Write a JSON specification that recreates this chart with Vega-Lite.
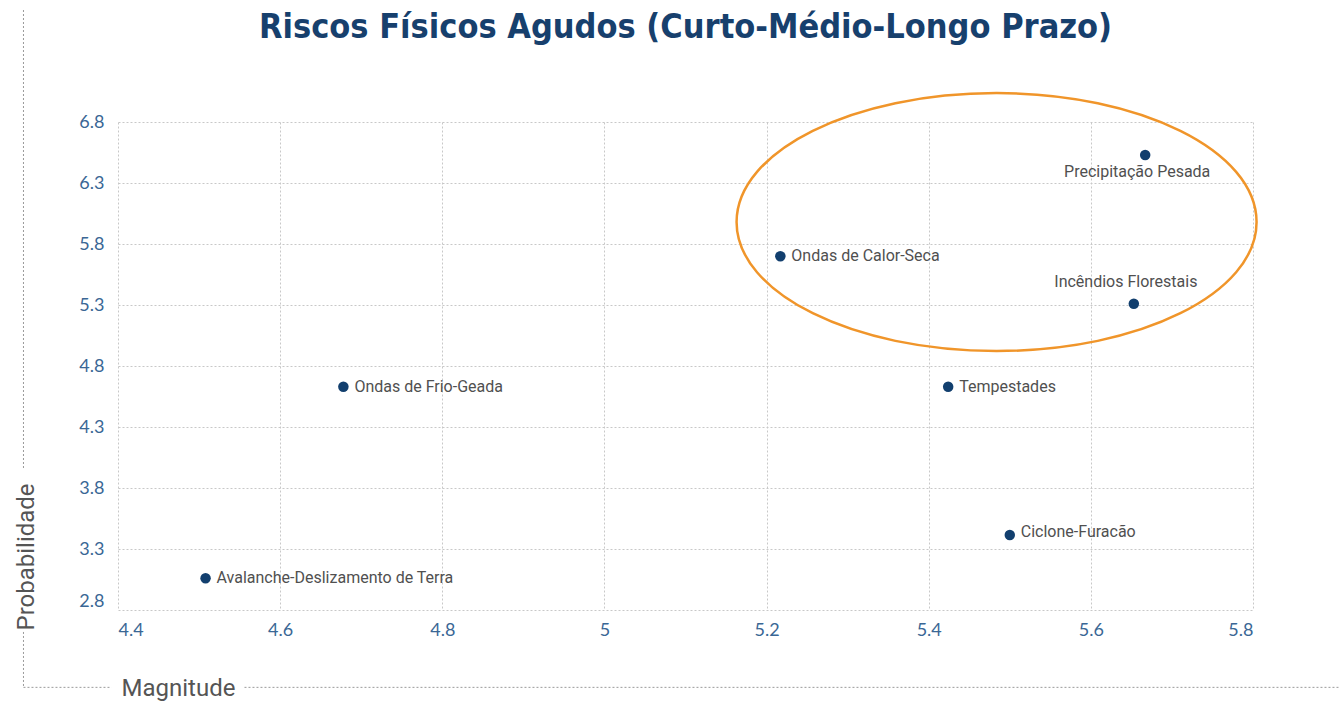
{
  "$schema": "https://vega.github.io/schema/vega-lite/v6.json",
  "autosize": {"type": "none"},
  "padding": {"left": 118, "top": 122, "right": 87, "bottom": 91},
  "width": 1135,
  "height": 488,
  "background": "white",
  "title": {
    "text": "Riscos Físicos Agudos (Curto-Médio-Longo Prazo)",
    "font": "DejaVu Sans Condensed, Roboto, sans-serif",
    "fontWeight": "bold",
    "fontSize": 34,
    "color": "#17406D",
    "anchor": "middle",
    "frame": "group",
    "baseline": "alphabetic",
    "offset": -62
  },
  "config": {
    "view": {"stroke": null},
    "axis": {
      "domain": false,
      "ticks": false,
      "grid": true,
      "gridColor": "#c8c8c8",
      "gridDash": [2, 2],
      "gridWidth": 1,
      "labelFont": "Lato",
      "labelFontWeight": "normal",
      "labelFontSize": 18,
      "labelColor": "#3A6795",
      "titleFont": "Roboto",
      "titleFontSize": 24,
      "titleFontWeight": "normal",
      "titleColor": "#555555"
    }
  },
  "datasets": {
    "riscos": [
      {"risco": "Precipitação Pesada", "magnitude": 5.667, "probabilidade": 6.53},
      {"risco": "Ondas de Calor-Seca", "magnitude": 5.217, "probabilidade": 5.70},
      {"risco": "Incêndios Florestais", "magnitude": 5.653, "probabilidade": 5.31},
      {"risco": "Ondas de Frio-Geada", "magnitude": 4.678, "probabilidade": 4.63},
      {"risco": "Tempestades", "magnitude": 5.424, "probabilidade": 4.63},
      {"risco": "Ciclone-Furacão", "magnitude": 5.50, "probabilidade": 3.415},
      {"risco": "Avalanche-Deslizamento de Terra", "magnitude": 4.508, "probabilidade": 3.06}
    ],
    "destaque": [
      {"magnitude": 5.4837, "probabilidade": 5.98}
    ],
    "moldura": [
      {"x1": 4.2834, "x2": 4.2834, "y1": 7.718, "y2": 3.948},
      {"x1": 4.2834, "x2": 4.2834, "y1": 2.62, "y2": 2.166},
      {"x1": 4.2834, "x2": 4.392, "y1": 2.166, "y2": 2.166},
      {"x1": 4.556, "x2": 5.907, "y1": 2.166, "y2": 2.166}
    ]
  },
  "encoding": {
    "x": {
      "field": "magnitude",
      "type": "quantitative",
      "scale": {"domain": [4.4, 5.8], "nice": false, "zero": false},
      "axis": {
        "values": [4.4, 4.6, 4.8, 5.0, 5.2, 5.4, 5.6, 5.8],
        "labelExpr": "datum.value == 5 ? '5' : format(datum.value, '.1f')",
        "labelPadding": 11,
        "title": "Magnitude",
        "titleAnchor": "start",
        "titleAlign": "left",
        "titleBaseline": "alphabetic",
        "titleX": 3,
        "titleY": 85
      }
    },
    "y": {
      "field": "probabilidade",
      "type": "quantitative",
      "scale": {"domain": [2.8, 6.8], "nice": false, "zero": false},
      "axis": {
        "values": [2.8, 3.3, 3.8, 4.3, 4.8, 5.3, 5.8, 6.3, 6.8],
        "format": ".1f",
        "labelPadding": 14,
        "labelBaseline": {"condition": {"test": "datum.value < 2.9", "value": "bottom"}, "value": "middle"},
        "title": "Probabilidade",
        "titleAngle": -90,
        "titleAlign": "left",
        "titleBaseline": "alphabetic",
        "titleX": -85,
        "titleY": 508
      }
    }
  },
  "layer": [
    {
      "data": {"name": "moldura"},
      "mark": {"type": "rule", "color": "#9a9a9a", "strokeDash": [2, 2], "strokeWidth": 1},
      "encoding": {
        "x": {"field": "x1", "type": "quantitative"},
        "x2": {"field": "x2"},
        "y": {"field": "y1", "type": "quantitative"},
        "y2": {"field": "y2"}
      }
    },
    {
      "data": {"name": "destaque"},
      "mark": {
        "type": "point",
        "filled": false,
        "shape": "M -1 0 C -1 -0.274 -0.552 -0.496 0 -0.496 C 0.552 -0.496 1 -0.274 1 0 C 1 0.274 0.552 0.496 0 0.496 C -0.552 0.496 -1 0.274 -1 0 Z",
        "size": 270400,
        "color": "#F0952A",
        "strokeWidth": 2.5,
        "opacity": 1
      }
    },
    {
      "data": {"name": "riscos"},
      "mark": {"type": "point", "filled": true, "size": 110, "color": "#123F6E", "opacity": 1}
    },
    {
      "data": {"name": "riscos"},
      "transform": [{"filter": "datum.risco != 'Precipitação Pesada' && datum.risco != 'Incêndios Florestais' && datum.risco != 'Ciclone-Furacão'"}],
      "mark": {"type": "text", "align": "left", "baseline": "middle", "dx": 11, "font": "Roboto", "fontSize": 16, "color": "#505050"},
      "encoding": {"text": {"field": "risco"}}
    },
    {
      "data": {"name": "riscos"},
      "transform": [{"filter": "datum.risco == 'Ciclone-Furacão'"}],
      "mark": {"type": "text", "align": "left", "baseline": "middle", "dx": 11, "dy": -3, "font": "Roboto", "fontSize": 16, "color": "#505050"},
      "encoding": {"text": {"field": "risco"}}
    },
    {
      "data": {"name": "riscos"},
      "transform": [{"filter": "datum.risco == 'Precipitação Pesada'"}],
      "mark": {"type": "text", "align": "center", "baseline": "middle", "dx": -8, "dy": 17, "font": "Roboto", "fontSize": 16, "color": "#505050"},
      "encoding": {"text": {"field": "risco"}}
    },
    {
      "data": {"name": "riscos"},
      "transform": [{"filter": "datum.risco == 'Incêndios Florestais'"}],
      "mark": {"type": "text", "align": "center", "baseline": "middle", "dx": -8, "dy": -22, "font": "Roboto", "fontSize": 16, "color": "#505050"},
      "encoding": {"text": {"field": "risco"}}
    }
  ]
}
